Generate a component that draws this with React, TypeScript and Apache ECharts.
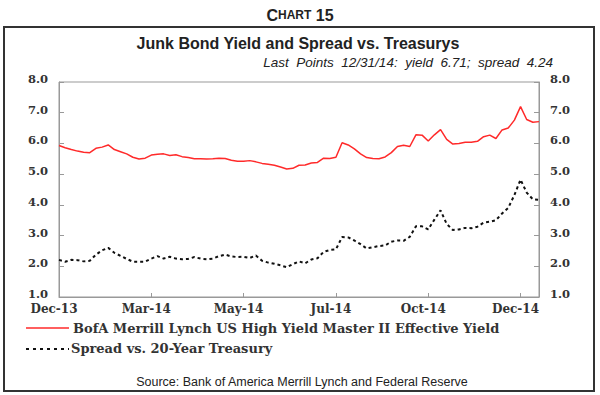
import React, { useEffect, useRef } from "react";
import * as echarts from "echarts";

const tickLabels = ["Dec-13", "Mar-14", "May-14", "Jul-14", "Oct-14", "Dec-14"];
const POINTS_PER_TICK = 15;

const yieldValues = [
  5.93, 5.86, 5.80, 5.75, 5.71, 5.70, 5.84, 5.88, 5.95, 5.80,
  5.73, 5.66, 5.55, 5.49, 5.52, 5.62, 5.65, 5.66, 5.61, 5.63,
  5.57, 5.54, 5.50, 5.50, 5.49, 5.50, 5.52, 5.51, 5.45, 5.42,
  5.42, 5.44, 5.40, 5.35, 5.32, 5.29, 5.23, 5.17, 5.19, 5.29,
  5.30, 5.36, 5.38, 5.52, 5.51, 5.55, 6.02, 5.95, 5.82, 5.66,
  5.54, 5.51, 5.50, 5.56, 5.70, 5.90, 5.94, 5.90, 6.28, 6.27,
  6.08, 6.28, 6.45, 6.13, 5.98, 6.00, 6.04, 6.04, 6.07, 6.22,
  6.27, 6.16, 6.44, 6.50, 6.76, 7.20, 6.78, 6.69, 6.71,
];

const spreadValues = [
  2.21, 2.15, 2.21, 2.20, 2.16, 2.18, 2.38, 2.52, 2.60, 2.44,
  2.34, 2.24, 2.15, 2.15, 2.15, 2.25, 2.33, 2.25, 2.31, 2.25,
  2.23, 2.24, 2.30, 2.25, 2.23, 2.25, 2.33, 2.38, 2.32, 2.30,
  2.31, 2.27, 2.35, 2.18, 2.12, 2.08, 2.03, 1.97, 2.07, 2.16,
  2.10, 2.22, 2.26, 2.47, 2.53, 2.55, 2.95, 2.94, 2.84, 2.72,
  2.58, 2.62, 2.66, 2.68, 2.80, 2.84, 2.83, 2.96, 3.30, 3.30,
  3.20, 3.52, 3.82, 3.38, 3.18, 3.20, 3.25, 3.24, 3.29, 3.42,
  3.45, 3.50, 3.72, 3.90, 4.32, 4.82, 4.40, 4.18, 4.16,
];

const seriesNames = [
  "BofA Merrill Lynch US High Yield Master II Effective Yield",
  "Spread vs. 20-Year Treasury",
];

const categories = yieldValues.map((_, i) =>
  i % POINTS_PER_TICK === 0 && tickLabels[i / POINTS_PER_TICK] ? tickLabels[i / POINTS_PER_TICK] : ""
);

const SERIF = "'DejaVu Serif', 'Liberation Serif', serif";
const SANS = "'Liberation Sans', Arial, sans-serif";
const RED = "#ff2a2a";
const DARK = "#111";

export default function App() {
  const ref = useRef<HTMLDivElement>(null);
  useEffect(() => {
    if (!ref.current) return;
    const chart = echarts.init(ref.current, undefined, { renderer: "svg" });
    const yAxisBase = {
      type: "value" as const,
      min: 1,
      max: 8,
      interval: 1,
      splitLine: { show: false },
      axisLine: { show: true, lineStyle: { color: "#999", width: 1 } },
      axisTick: { show: true, inside: true, length: 5, lineStyle: { color: "#999" } },
      axisLabel: {
        formatter: (v: number) => v.toFixed(1),
        color: "#333",
        fontFamily: SERIF,
        fontSize: 11.5,
        fontWeight: "bold" as const,
        margin: 11,
        verticalAlign: "bottom" as const,
        lineHeight: 12,
        padding: [0, 0, -3, 0],
      },
    };
    chart.setOption({
      animation: false,
      backgroundColor: "#fff",
      grid: {
        left: 59,
        right: 61,
        top: 82,
        bottom: 98,
        show: true,
        borderColor: "#999",
        borderWidth: 1,
        containLabel: false,
      },
      xAxis: {
        type: "category",
        data: categories,
        boundaryGap: false,
        axisLine: { lineStyle: { color: "#999" } },
        axisTick: {
          inside: true,
          length: 4,
          interval: POINTS_PER_TICK - 1,
          lineStyle: { color: "#999" },
        },
        axisLabel: {
          interval: POINTS_PER_TICK - 1,
          color: "#333",
          fontFamily: SERIF,
          fontSize: 12,
          fontWeight: "bold",
          margin: 6,
          lineHeight: 12,
          padding: [0, 10, 0, 0],
        },
      },
      yAxis: [
        { ...yAxisBase, position: "left" },
        { ...yAxisBase, position: "right" },
      ],
      series: [
        {
          name: seriesNames[0],
          type: "line",
          data: yieldValues,
          symbol: "none",
          yAxisIndex: 0,
          lineStyle: { color: RED, width: 1.5 },
          itemStyle: { color: RED },
        },
        {
          name: seriesNames[1],
          type: "line",
          data: spreadValues,
          symbol: "none",
          yAxisIndex: 0,
          lineStyle: { color: DARK, width: 2, type: [3, 3] },
          itemStyle: { color: DARK },
        },
      ],
      graphic: [
        {
          type: "rect",
          shape: { x: 4, y: 27, width: 590, height: 364 },
          style: { fill: "none", stroke: "#333", lineWidth: 2 },
          silent: true,
        },
        {
          type: "text",
          x: 300,
          y: 15,
          style: {
            text: "{a|C}{b|HART}{a| 15}",
            align: "center",
            verticalAlign: "middle",
            rich: {
              a: { fontFamily: SANS, fontSize: 16, fontWeight: "bold", fill: "#222" },
              b: { fontFamily: SANS, fontSize: 12, fontWeight: "bold", fill: "#222" },
            },
          },
        },
        {
          type: "text",
          x: 298,
          y: 43,
          style: {
            text: "Junk Bond Yield and Spread vs. Treasurys",
            align: "center",
            verticalAlign: "middle",
            fontFamily: SANS,
            fontSize: 16,
            fontWeight: "bold",
            fill: "#222",
          },
        },
        {
          type: "text",
          x: 553,
          y: 62,
          style: {
            text: "Last  Points  12/31/14:  yield  6.71;  spread  4.24",
            align: "right",
            verticalAlign: "middle",
            fontFamily: SANS,
            fontSize: 13.5,
            fontStyle: "italic",
            fill: "#222",
          },
        },
        {
          type: "line",
          shape: { x1: 26, y1: 328, x2: 69, y2: 328 },
          style: { stroke: RED, lineWidth: 1.5 },
        },
        {
          type: "text",
          x: 73,
          y: 328,
          style: {
            text: seriesNames[0],
            verticalAlign: "middle",
            fontFamily: SERIF,
            fontSize: 13,
            fontWeight: "bold",
            fill: "#333",
          },
        },
        {
          type: "line",
          shape: { x1: 26, y1: 349, x2: 69, y2: 349 },
          style: { stroke: DARK, lineWidth: 2, lineDash: [3, 4] },
        },
        {
          type: "text",
          x: 71,
          y: 348,
          style: {
            text: seriesNames[1],
            verticalAlign: "middle",
            fontFamily: SERIF,
            fontSize: 13,
            fontWeight: "bold",
            fill: "#333",
          },
        },
        {
          type: "text",
          x: 302,
          y: 382,
          style: {
            text: "Source: Bank of America Merrill Lynch and Federal Reserve",
            align: "center",
            verticalAlign: "middle",
            fontFamily: SANS,
            fontSize: 12.5,
            fill: "#222",
          },
        },
      ],
    });
    return () => chart.dispose();
  }, []);
  return (
    <div
      ref={ref}
      style={{ position: "fixed", left: 0, top: 0, width: 600, height: 395, background: "#fff" }}
    />
  );
}
